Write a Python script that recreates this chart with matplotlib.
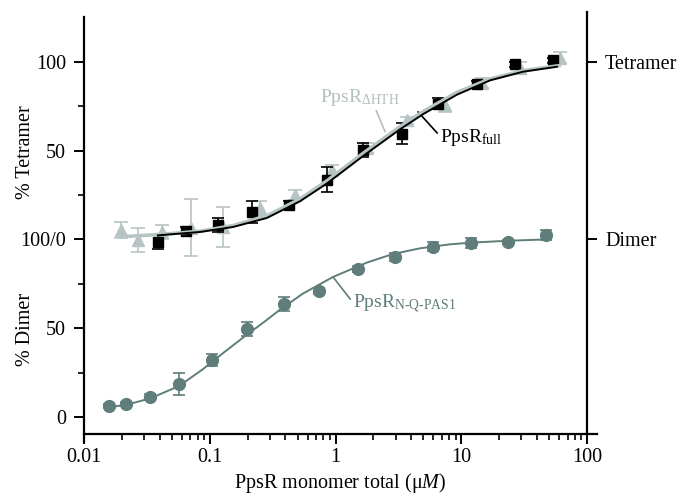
import matplotlib
matplotlib.use('Agg')
import matplotlib.pyplot as plt
from matplotlib.ticker import FixedLocator, NullFormatter

plt.rcParams['font.family'] = ['Liberation Serif', 'DejaVu Serif']
plt.rcParams['mathtext.fontset'] = 'custom'
plt.rcParams['mathtext.rm'] = 'Liberation Serif'
plt.rcParams['mathtext.it'] = 'Liberation Serif:italic'

# PpsR N-Q-PAS1 (% dimer)
dimer_x = [0.0158, 0.0216, 0.0335, 0.0569, 0.104, 0.198, 0.389, 0.739,
           1.51, 2.97, 5.96, 11.96, 23.6, 47.2]
dimer_y = [6.2, 7.3, 11.3, 18.6, 32.1, 49.6, 63.7, 71.0,
           83.4, 90.1, 95.8, 98.0, 98.6, 102.5]
dimer_err = [1, 1, 1.5, 6, 3.5, 4, 4, 1.5, 1.5, 2.5, 2.5, 3, 1, 3]
dimer_fit_x = [0.0158, 0.0216, 0.0335, 0.057, 0.0883, 0.13, 0.198, 0.27,
               0.362, 0.55, 0.955, 1.78, 2.86, 4.7, 8, 12, 24, 47.2]
dimer_fit_y = [5.6, 6.9, 10.5, 17.5, 27.0, 36.5, 46.5, 53.5,
               60.5, 69.5, 78.9, 87.0, 91.8, 95.0, 97.2, 98.2, 99.3, 100.0]

# PpsR full (% tetramer)
full_x = [0.0387, 0.0647, 0.116, 0.217, 0.427, 0.855, 1.66, 3.38,
          6.53, 13.3, 26.7, 53.7]
full_y = [-1.4, 4.8, 8.2, 15.5, 19.4, 33.5, 50.4, 59.6,
          76.5, 87.3, 98.5, 100.8]
full_err = [4, 2, 4, 6, 2, 7, 4, 6, 3, 2, 1.5, 1.5]
full_fit_x = [0.0387, 0.0836, 0.153, 0.285, 0.522, 0.855, 1.66, 3.26,
              4.97, 9.25, 16.9, 31.0, 57.7]
full_fit_y = [2.3, 4.2, 7.0, 12.1, 21.5, 31.5, 47.0, 62.0,
              70.5, 81.5, 89.5, 94.4, 97.2]

# PpsR delta-HTH (% tetramer)
dhth_x = [0.0197, 0.0269, 0.0417, 0.0709, 0.127, 0.251, 0.476, 0.938,
          1.78, 3.7, 7.43, 14.5, 29.3, 61]
dhth_y = [5.4, -0.3, 4.2, 6.5, 7, 17.7, 25, 39,
          51.5, 67, 75.8, 88, 96.6, 102.3]
dhth_err = [4.5, 6.5, 4, 16, 11, 4, 3, 3, 3, 2, 4, 3, 3, 3]
dhth_fit_x = [0.0197, 0.04, 0.0836, 0.153, 0.285, 0.522, 0.855, 1.66,
              3.26, 4.97, 9.25, 16.9, 31.0, 60]
dhth_fit_y = [1.5, 2.8, 4.6, 7.8, 13.3, 22.8, 33.0, 48.5,
              63.5, 72.0, 82.8, 90.3, 95.0, 97.8]

offset = 100  # tetramer panel sits above the dimer panel

teal = '#5f7d7a'
light = '#b7c4c4'

fig = plt.figure(figsize=(6.8, 4.94), dpi=100)
ax = fig.add_axes([84 / 680, 1 - 442 / 494, 513 / 680, 430 / 494])
ax.set_xscale('log')
ax.set_xlim(0.01, 120)
ax.set_ylim(-14, 228)

# dimer
ax.plot(dimer_fit_x, dimer_fit_y, color=teal, lw=1.4, zorder=2)
ax.errorbar(dimer_x, dimer_y, yerr=dimer_err, fmt='o', color=teal, ms=8.5,
            ecolor=teal, elinewidth=1.2, capsize=4, capthick=1.2, zorder=3)

# tetramer
ax.errorbar(dhth_x, [v + offset for v in dhth_y], yerr=dhth_err, fmt='^',
            color=light, ms=9, ecolor=light, elinewidth=1.2, capsize=5,
            capthick=1.2, zorder=3)
ax.errorbar(full_x, [v + offset for v in full_y], yerr=full_err, fmt='s',
            color='black', ms=6.8, ecolor='black', elinewidth=1.2, capsize=4,
            capthick=1.2, zorder=4)
ax.plot(dhth_fit_x, [v + offset for v in dhth_fit_y], color=light, lw=2.6,
        zorder=5)
ax.plot(full_fit_x, [v + offset for v in full_fit_y], color='black', lw=1.4,
        zorder=6)

# labels with leader lines
ax.annotate(r'PpsR$_{\mathrm{\Delta HTH}}$', xy=(2.48, 160.6),
            xytext=(0.753, 177.5), color='#b3bfbf', fontsize=14,
            va='baseline', ha='left',
            arrowprops=dict(arrowstyle='-', color='#b3bfbf', lw=1.2,
                            shrinkA=0, shrinkB=0, relpos=(0.69, 0)))
ax.annotate(r'PpsR$_{\mathrm{full}}$', xy=(4.53, 171.8),
            xytext=(6.78, 155), color='black', fontsize=14,
            va='baseline', ha='left',
            arrowprops=dict(arrowstyle='-', color='black', lw=1.2,
                            shrinkA=0, shrinkB=0, relpos=(0, 0.55)))
ax.annotate(r'PpsR$_{\mathrm{N\text{-}Q\text{-}PAS1}}$', xy=(0.955, 78.9),
            xytext=(1.38, 61.4), color=teal, fontsize=14,
            va='baseline', ha='left',
            arrowprops=dict(arrowstyle='-', color=teal, lw=1.2,
                            shrinkA=0, shrinkB=0, relpos=(0, 0.55)))

# spines
for s in ax.spines.values():
    s.set_linewidth(1.6)
ax.spines['top'].set_visible(False)
ax.spines['right'].set_visible(False)
ax.spines['bottom'].set_position(('data', -9.6))
ax.spines['left'].set_bounds(-14, 225.4)

ax.set_yticks([0, 50, 100, 150, 200])
ax.set_yticklabels(['0', '50', '100/0', '50', '100'])
ax.yaxis.set_minor_locator(FixedLocator([25, 75, 125, 175]))
ax.set_xticks([0.01, 0.1, 1, 10, 100])
ax.set_xticklabels(['0.01', '0.1', '1', '10', '100'])
ax.xaxis.set_minor_formatter(NullFormatter())
ax.tick_params(which='major', length=7, width=1.4, labelsize=14.5, pad=3)
ax.tick_params(which='minor', length=4, width=1.2)
ax.tick_params(axis='y', which='major', pad=6)
ax.set_xlabel(r'PpsR monomer total ($\mathrm{\mu}$$\mathit{M}$)',
              fontsize=14.5, labelpad=3)

ax2 = ax.twinx()
ax2.set_ylim(ax.get_ylim())
for k in ['top', 'left', 'bottom']:
    ax2.spines[k].set_visible(False)
ax2.spines['right'].set_position(('data', 100))
ax2.spines['right'].set_linewidth(1.6)
ax2.spines['right'].set_bounds(-9.6, 228)
ax2.set_yticks([100, 200])
ax2.set_yticklabels(['Dimer', 'Tetramer'])
ax2.tick_params(length=7, width=1.4, labelsize=14.5, pad=6)

fig.text(0.037, 1 - 152 / 494, '% Tetramer', rotation=90, fontsize=14.5,
         ha='center', va='center')
fig.text(0.037, 1 - 329 / 494, '% Dimer', rotation=90, fontsize=14.5,
         ha='center', va='center')

fig.savefig('out.png', dpi=100)
